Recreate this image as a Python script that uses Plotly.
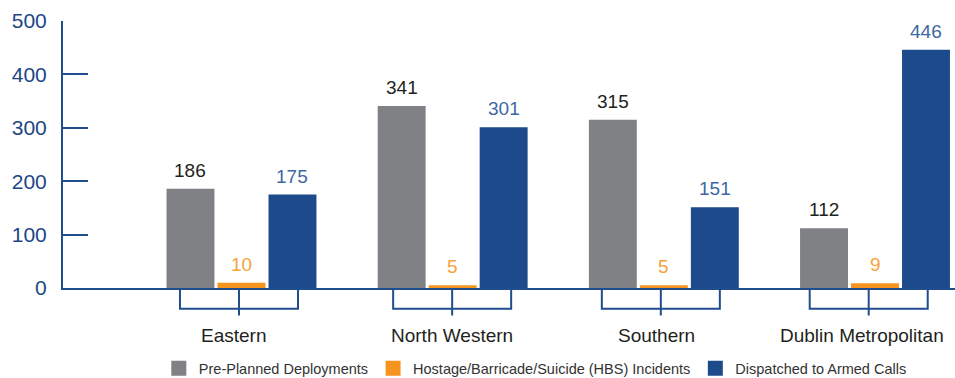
import plotly.graph_objects as go

# Armed support unit activity by region
regions = ["Eastern", "North Western", "Southern", "Dublin Metropolitan"]
series_names = [
    "Pre-Planned Deployments",
    "Hostage/Barricade/Suicide (HBS) Incidents",
    "Dispatched to Armed Calls",
]
pre_planned = [186, 341, 315, 112]
hbs_incidents = [10, 5, 5, 9]
armed_calls = [175, 301, 151, 446]
y_ticks = [0, 100, 200, 300, 400, 500]

BAR_COLORS = ["#808184", "#f7941e", "#1c4a8a"]
LABEL_COLORS = ["#231f20", "#f9a23a", "#3e67a3"]
AXIS_BLUE = "#1f4d8d"
FONT = "Liberation Sans, Arial, sans-serif"

xs = list(range(1, len(regions) + 1))
all_values = [pre_planned, hbs_incidents, armed_calls]

PX_PER_UNIT = 211.17     # horizontal pixels per category step
BAR_SLOT = 51.0 / PX_PER_UNIT  # centre-to-centre distance of bars in a group

fig = go.Figure()

for name, vals, col in zip(series_names, all_values, BAR_COLORS):
    fig.add_trace(go.Bar(
        x=xs, y=vals, name=name, marker=dict(color=col, line=dict(width=0)),
        showlegend=False, hoverinfo="x+y",
    ))
    # legend swatch with a slightly larger square
    fig.add_trace(go.Scatter(
        x=[None], y=[None], mode="markers", name=name,
        marker=dict(symbol="square", size=15, color=col),
    ))

annotations = []
# value labels above each bar
for k, (vals, lc) in enumerate(zip(all_values, LABEL_COLORS)):
    for x, v in zip(xs, vals):
        annotations.append(dict(
            x=x + (k - 1) * BAR_SLOT, y=v, xref="x", yref="y",
            text=str(v), showarrow=False, yanchor="bottom", yshift=6,
            font=dict(family=FONT, size=19, color=lc),
        ))

# brackets and region names under each group
bracket_shift_px = [-2.5, -0.5, -3.0, -6.3]
label_shift_px = [-7.5, -1.0, -7.7, -13.0]
half = 59.0 / PX_PER_UNIT
shapes = []
for x, bs, ls, reg in zip(xs, bracket_shift_px, label_shift_px, regions):
    c = x + bs / PX_PER_UNIT
    shapes.append(dict(
        type="path", xref="x", yref="paper",
        path=f"M {c - half},0 L {c - half},-0.078 L {c + half},-0.078 L {c + half},0",
        line=dict(color=AXIS_BLUE, width=2),
    ))
    shapes.append(dict(
        type="line", xref="x", yref="paper", x0=c, x1=c, y0=0, y1=-0.103,
        line=dict(color=AXIS_BLUE, width=2),
    ))
    annotations.append(dict(
        x=x + ls / PX_PER_UNIT, y=-0.1775, xref="x", yref="paper",
        text=reg, showarrow=False, yanchor="middle", xanchor="center",
        font=dict(family=FONT, size=19, color="#231f20"),
    ))

fig.update_layout(
    width=955, height=378,
    margin=dict(l=63, r=0, t=21, b=89.5, autoexpand=False),
    paper_bgcolor="white", plot_bgcolor="white",
    barmode="group", bargap=0.2756, bargroupgap=0.06,
    font=dict(family=FONT, color="#231f20"),
    xaxis=dict(
        range=[0.1548, 4.3788], showgrid=False, zeroline=False,
        showticklabels=False, ticks="",
        showline=True, linecolor=AXIS_BLUE, linewidth=2,
    ),
    yaxis=dict(
        range=[0, 500], tickvals=y_ticks, showgrid=False, zeroline=False,
        showline=True, linecolor=AXIS_BLUE, linewidth=2,
        ticks="inside", ticklen=25, tickwidth=2, tickcolor=AXIS_BLUE,
        tickfont=dict(family=FONT, size=21, color="#1d4685"),
        ticklabelstandoff=10,
    ),
    legend=dict(
        orientation="h", x=0.5295, xanchor="center", y=-0.301, yanchor="middle",
        font=dict(family=FONT, size=14.5, color="#333333"),
        itemsizing="trace", bgcolor="rgba(0,0,0,0)",
    ),
    shapes=shapes, annotations=annotations,
)

fig.write_html("out.html")
